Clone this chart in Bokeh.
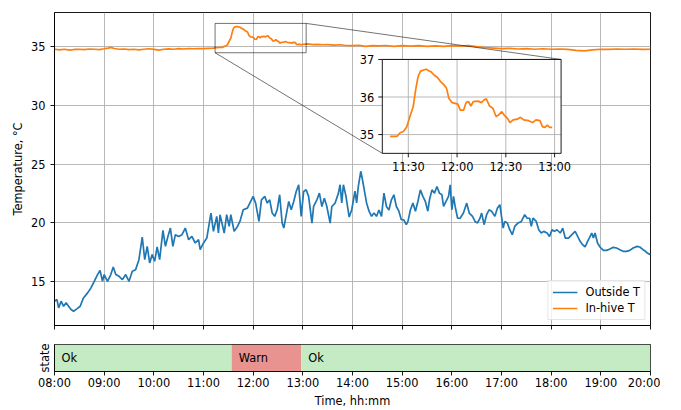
import math
from bokeh.plotting import figure
from bokeh.layouts import column
from bokeh.models import FixedTicker, Range1d, Legend, CustomLabelingPolicy
from bokeh.core.properties import value
from bokeh.embed import file_html
from bokeh.resources import INLINE

# ---------------- data ----------------
time_ticks = ["08:00", "09:00", "10:00", "11:00", "12:00", "13:00", "14:00",
              "15:00", "16:00", "17:00", "18:00", "19:00", "20:00"]
day_start, day_end = "08:00", "20:00"
temp_ticks = [15, 20, 25, 30, 35]
temp_range = (11.26, 37.93)

# outside temperature: minutes after 08:00, degC
outside_min = [0, 3, 5, 8, 11, 14, 17, 20, 23, 27, 31, 35, 40, 44, 48, 52, 55, 58, 60, 64,
               68, 71, 74, 78, 82, 86, 90, 94, 98, 102, 106, 109, 112, 115, 118, 121, 124, 127, 131, 134,
               137, 140, 143, 146, 150, 154, 158, 162, 166, 170, 174, 176, 180, 184, 189, 192, 196, 198, 200, 205,
               208, 211, 213, 217, 221, 224, 228, 233, 237, 240, 243, 247, 250, 254, 257, 260, 263, 266, 269, 272,
               275, 277, 280, 283, 286, 289, 292, 295, 298, 301, 304, 307, 311, 313, 317, 320, 323, 326, 329, 333,
               335, 339, 343, 345, 347, 349, 352, 356, 359, 363, 365, 367, 370, 372, 375, 377, 380, 383, 386, 389,
               392, 395, 398, 401, 404, 407, 410, 413, 416, 419, 422, 425, 427, 430, 433, 436, 439, 442, 445, 448,
               451, 453, 456, 459, 462, 465, 468, 470, 473, 476, 478, 480, 482, 484, 487, 490, 494, 498, 501, 505,
               508, 511, 514, 516, 519, 522, 525, 528, 532, 535, 538, 540, 542, 544, 547, 550, 553, 556, 560, 564,
               568, 571, 574, 576, 578, 582, 585, 588, 591, 595, 598, 601, 604, 607, 611, 614, 617, 621, 625, 629,
               632, 635, 638, 641, 644, 646, 649, 651, 653, 656, 659, 663, 667, 671, 675, 679, 683, 687, 691, 695,
               699, 704, 707, 711, 714, 716, 720]
outside_t = [13.33, 13.47, 12.76, 13.33, 12.9, 13.19, 12.9, 12.62, 12.48, 12.68, 12.9, 13.61, 14.04, 14.46, 15.03, 15.6, 15.96, 15.03, 15.6, 15.03,
             15.6, 16.25, 15.6, 15.45, 15.17, 15.6, 15.03, 15.88, 16.02, 16.87, 18.8, 16.87, 18.0, 16.59, 17.3, 16.73, 17.95, 16.87, 19.37, 18.0,
             18.85, 19.56, 18.0, 19.0, 18.85, 19.0, 19.56, 18.57, 18.85, 18.29, 18.57, 17.72, 18.29, 18.71, 20.84, 19.28, 20.56, 19.14, 20.7, 19.14,
             20.7, 19.7, 20.7, 19.28, 19.7, 20.13, 21.12, 21.26, 21.83, 22.26, 21.69, 20.13, 21.97, 22.26, 21.69, 21.97, 20.84, 20.56, 21.12, 22.4,
             19.99, 19.56, 20.7, 21.83, 21.12, 21.83, 22.68, 23.25, 20.56, 22.68, 22.82, 22.26, 19.99, 21.4, 21.97, 22.54, 21.4, 22.11, 21.4, 19.99,
             21.4, 21.69, 22.54, 23.25, 21.7, 23.25, 22.3, 20.5, 21.1, 22.7, 21.7, 23.1, 24.4, 23.7, 22.5, 21.7, 21.0, 20.56, 20.84, 20.56,
             21.1, 20.56, 22.54, 21.4, 21.1, 21.97, 22.4, 21.4, 21.0, 20.27, 20.27, 19.85, 20.13, 21.12, 21.69, 21.0, 21.83, 22.82, 22.26, 21.83,
             21.0, 21.97, 22.82, 22.54, 23.1, 22.54, 22.4, 21.4, 21.83, 22.26, 23.25, 21.12, 22.26, 21.4, 20.4, 20.4, 20.84, 21.69, 20.84, 20.56,
             20.13, 20.0, 20.4, 20.84, 19.85, 20.7, 21.12, 21.0, 20.56, 21.26, 21.55, 20.56, 19.56, 20.13, 20.0, 19.42, 19.0, 19.7, 20.0, 20.13,
             20.7, 20.4, 20.4, 19.7, 20.4, 20.13, 19.42, 19.14, 19.28, 19.14, 18.85, 19.42, 19.28, 19.42, 19.14, 19.56, 18.71, 18.71, 19.0, 19.28,
             18.85, 18.43, 18.15, 17.95, 18.43, 18.71, 19.14, 18.71, 19.14, 18.29, 17.95, 17.66, 17.66, 17.78, 17.92, 17.86, 17.72, 17.58, 17.58, 17.66,
             17.86, 18.0, 17.95, 17.72, 17.58, 17.44, 17.3]

# in-hive temperature: minutes after 08:00, degC
hive_min = [0, 6, 12, 18, 24, 30, 36, 42, 48, 54, 60, 65, 68, 72, 78, 84, 90, 96, 102, 108,
            114, 120, 126, 132, 138, 144, 150, 156, 162, 168, 174, 180, 186, 192, 196,
            198.8, 203, 205, 207, 209, 211, 213, 214.5, 216, 217.5, 219.5, 221, 222.5, 224, 226, 228, 230,
            232, 233.5, 235, 237, 240.5, 242, 244, 245.5, 247, 248.5, 250, 253, 255, 256.5, 258, 260, 262,
            264, 265.5, 267.5, 269, 271, 272.5, 274.5, 277, 279, 281, 284, 286.5, 288.5, 291, 292.5, 294,
            295.5, 297, 298.5,
            300, 306, 312, 318, 324, 330, 338, 345, 352, 360, 368, 376, 384, 392, 400, 410, 420, 430, 440,
            450, 460, 470, 480, 490, 500, 510, 520, 530, 540, 550, 560, 570, 580, 590, 600, 610, 620, 630,
            640, 650, 660, 670, 680, 690, 700, 710, 720]
hive_t = [34.8, 34.74, 34.8, 34.72, 34.78, 34.8, 34.76, 34.82, 34.8, 34.77, 34.84, 34.9, 34.96, 34.86, 34.8, 34.82, 34.76, 34.8, 34.75, 34.8,
          34.84, 34.79, 34.72, 34.8, 34.83, 34.8, 34.85, 34.82, 34.86, 34.84, 34.86, 34.85, 34.88, 34.9, 34.93,
          34.95, 34.95, 35.05, 35.08, 35.2, 35.48, 35.74, 36.19, 36.54, 36.69, 36.72, 36.74, 36.7, 36.67, 36.58, 36.52, 36.4,
          36.32, 36.23, 35.96, 35.85, 35.81, 35.65, 35.65, 35.85, 35.88, 35.76, 35.88, 35.89, 35.85, 35.92, 35.95, 35.76, 35.7,
          35.48, 35.52, 35.61, 35.52, 35.43, 35.32, 35.39, 35.41, 35.46, 35.39, 35.37, 35.32, 35.39, 35.37, 35.21, 35.19,
          35.25, 35.19, 35.19,
          35.22, 35.25, 35.2, 35.22, 35.18, 35.2, 35.15, 35.18, 35.12, 35.1, 35.14, 35.05, 35.1, 35.08, 35.12, 35.05, 35.1, 35.06, 35.1,
          35.04, 35.08, 35.05, 35.1, 35.06, 35.1, 35.02, 34.95, 34.9, 34.85, 34.88, 34.82, 34.86, 34.8, 34.84, 34.8, 34.82, 34.78, 34.7,
          34.66, 34.75, 34.8, 34.78, 34.82, 34.8, 34.82, 34.78, 34.8]

zoom_data_window = ("11:18", "12:59")
zoom_xlim = ("11:14", "13:04")
zoom_ylim = (34.5, 37.0)
zoom_xticks = ["11:30", "12:00", "12:30", "13:00"]
zoom_yticks = [35, 36, 37]

state_start = ["08:00", "11:34", "12:58"]
state_end = ["11:34", "12:58", "20:00"]
state_name = ["Ok", "Warn", "Ok"]

assert len(outside_min) == len(outside_t)
assert len(hive_min) == len(hive_t)

# ---------------- helpers / style ----------------
def hm(s):
    h, m = s.split(":")
    return int(h) * 60 + int(m)

FONT = "DejaVu Sans"
FS = "11.4px"
BLUE = "#1f77b4"
ORANGE = "#ff7f0e"
GRID = "#b0b0b0"
W = 660
LEFT = 54

t0 = hm(day_start)
ox = [t0 + m for m in outside_min]
hx = [t0 + m for m in hive_min]
hour_ticks = [hm(t) for t in time_ticks]


def style_axes(fig):
    for ax in fig.axis:
        ax.axis_line_color = "black"
        ax.axis_line_width = 0.9
        ax.major_tick_line_color = "black"
        ax.major_tick_line_width = 0.9
        ax.major_tick_out = 4
        ax.major_tick_in = 0
        ax.minor_tick_out = 0
        ax.minor_tick_in = 0
        ax.major_label_text_font = FONT
        ax.major_label_text_font_size = FS
        ax.major_label_text_color = "black"
        ax.axis_label_text_font = FONT
        ax.axis_label_text_font_size = FS
        ax.axis_label_text_font_style = "normal"
        ax.axis_label_text_color = "black"
        ax.major_label_standoff = 4


# ---------------- main plot ----------------
p = figure(width=W, height=337,
           x_range=Range1d(hm(day_start), hm(day_end)), y_range=Range1d(*temp_range),
           output_backend="svg", toolbar_location=None,
           min_border_left=LEFT, min_border_right=10, min_border_top=12, min_border_bottom=12)
p.outline_line_color = "black"
p.outline_line_width = 0.9
style_axes(p)
p.xaxis.ticker = FixedTicker(ticks=hour_ticks)
p.xaxis.major_label_text_font_size = "0px"
p.xaxis.major_label_standoff = 0
p.xaxis.major_label_policy = CustomLabelingPolicy(code="""
try {
  const n = indices.size
  for (let i = 0; i < n; i++) { indices.unset(i) }
} catch (e) {}
return indices
""")
p.yaxis.ticker = FixedTicker(ticks=temp_ticks)
p.yaxis.axis_label = "Temperature, °C"
p.yaxis.major_label_standoff = 5
p.yaxis.axis_label_standoff = 3
for g in (p.xgrid, p.ygrid):
    g.grid_line_color = GRID
    g.grid_line_width = 0.9

r_out = p.line(ox, outside_t, line_color=BLUE, line_width=1.7)
r_hive = p.line(hx, hive_t, line_color=ORANGE, line_width=1.7)

# ---------------- inset (zoom) ----------------
INSET = (0.55, 0.55, 0.30, 0.30)  # left, bottom, width, height as fraction of frame
zx0, zx1 = hm(zoom_xlim[0]), hm(zoom_xlim[1])
zy0, zy1 = zoom_ylim
sx = (zx1 - zx0) / INSET[2]
ixs = zx0 - INSET[0] * sx
sy = (zy1 - zy0) / INSET[3]
iys = zy0 - INSET[1] * sy
p.extra_x_ranges = {"ix": Range1d(ixs, ixs + sx)}
p.extra_y_ranges = {"iy": Range1d(iys, iys + sy)}
kw = dict(x_range_name="ix", y_range_name="iy")

xr, yr = p.x_range, p.y_range
cx_l = xr.start + INSET[0] * (xr.end - xr.start)
cx_r = xr.start + (INSET[0] + INSET[2]) * (xr.end - xr.start)
cy_b = yr.start + INSET[1] * (yr.end - yr.start)
cy_t = yr.start + (INSET[1] + INSET[3]) * (yr.end - yr.start)

# indicator rectangle and connectors
p.quad(left=[zx0], right=[zx1], bottom=[zy0], top=[zy1], fill_color=None,
       line_color="black", line_alpha=0.55, line_width=1)
p.segment(x0=[zx0, zx1], y0=[zy0, zy1], x1=[cx_l, cx_r], y1=[cy_b, cy_t],
          line_color="black", line_alpha=0.55, line_width=1)

p.quad(left=[zx0], right=[zx1], bottom=[zy0], top=[zy1], fill_color="white", line_color=None, **kw)
ixt = [hm(t) for t in zoom_xticks]
p.segment(x0=ixt, y0=[zy0] * len(ixt), x1=ixt, y1=[zy1] * len(ixt),
          line_color=GRID, line_width=0.9, **kw)
p.segment(x0=[zx0] * len(zoom_yticks), y0=zoom_yticks, x1=[zx1] * len(zoom_yticks), y1=zoom_yticks,
          line_color=GRID, line_width=0.9, **kw)
w0, w1 = hm(zoom_data_window[0]), hm(zoom_data_window[1])
sel = [i for i, m in enumerate(hx) if w0 <= m <= w1]
p.line([hx[i] for i in sel], [hive_t[i] for i in sel], line_color=ORANGE, line_width=1.7, **kw)
p.quad(left=[zx0], right=[zx1], bottom=[zy0], top=[zy1], fill_color=None,
       line_color="black", line_width=0.9, **kw)
p.ray(x=ixt, y=[zy0] * len(ixt), length=4, length_units="screen", angle=-math.pi / 2,
      line_color="black", line_width=0.9, **kw)
p.ray(x=[zx0] * len(zoom_yticks), y=zoom_yticks, length=4, length_units="screen", angle=math.pi,
      line_color="black", line_width=0.9, **kw)
p.text(x=ixt, y=[zy0] * len(ixt), text=zoom_xticks, text_align="center", text_baseline="top",
       y_offset=7, text_font=value(FONT), text_font_size=FS, text_color="black", **kw)
p.text(x=[zx0] * len(zoom_yticks), y=zoom_yticks, text=[str(v) for v in zoom_yticks],
       text_align="right", text_baseline="middle", x_offset=-8,
       text_font=value(FONT), text_font_size=FS, text_color="black", **kw)

legend = Legend(items=[("Outside T", [r_out]), ("In-hive T", [r_hive])],
                location="bottom_right", margin=5, padding=4, spacing=2,
                glyph_width=25, glyph_height=14, label_height=14, label_standoff=8,
                label_text_font=FONT, label_text_font_size=FS, label_text_color="black",
                border_line_color="#cccccc", border_line_width=1,
                background_fill_color="white", background_fill_alpha=0.8)
p.add_layout(legend)

# ---------------- state strip ----------------
s = figure(width=W, height=73, x_range=p.x_range, y_range=Range1d(0, 1),
           output_backend="svg", toolbar_location=None,
           min_border_left=LEFT, min_border_right=10, min_border_top=7, min_border_bottom=37)
s.outline_line_color = "black"
s.outline_line_width = 0.9
style_axes(s)
state_colors = {"Ok": "#c5ebc5", "Warn": "#e8938f"}
s.quad(left=[hm(t) for t in state_start], right=[hm(t) for t in state_end], bottom=0, top=1,
       fill_color=[state_colors[n] for n in state_name], line_color=None)
s.text(x=[hm(t) for t in state_start], y=[0.5] * len(state_name), text=state_name,
       x_offset=7, text_align="left", text_baseline="middle",
       text_font=value(FONT), text_font_size=FS, text_color="black")
s.xgrid.visible = False
s.ygrid.visible = False
s.xaxis.ticker = FixedTicker(ticks=hour_ticks)
s.xaxis.major_label_overrides = {hm(t): t for t in time_ticks}
s.xaxis.major_label_standoff = 0
s.xaxis.axis_label = "Time, hh:mm"
s.xaxis.axis_label_standoff = 1
s.yaxis.ticker = FixedTicker(ticks=[])
s.yaxis.major_tick_out = 0
s.yaxis.major_label_standoff = 0
s.yaxis.axis_label = "state"
s.yaxis.axis_label_standoff = 3

layout = column(p, s)
open("out.html", "w").write(file_html(layout, INLINE))
